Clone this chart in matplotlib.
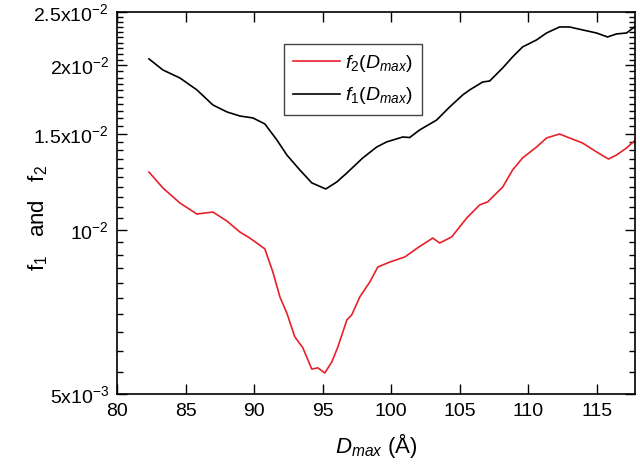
import numpy as np
import matplotlib
matplotlib.use('Agg')
import matplotlib.pyplot as plt
from matplotlib.ticker import FixedLocator, NullFormatter

plt.rcParams['font.family'] = ['Liberation Sans', 'DejaVu Sans']
plt.rcParams['mathtext.fontset'] = 'custom'
plt.rcParams['mathtext.rm'] = 'Liberation Sans'
plt.rcParams['mathtext.it'] = 'Liberation Sans:italic'

# f1(Dmax), black curve
d1 = [82.31, 83.33, 84.57, 85.81, 86.98, 88.00, 88.95, 89.90, 90.77, 91.65,
      92.38, 93.33, 94.20, 95.22, 96.03, 96.76, 97.92, 98.94, 99.67, 100.84,
      101.35, 102.08, 103.32, 104.27, 105.22, 105.73, 106.68, 107.19, 108.14, 108.86,
      109.59, 110.61, 111.34, 112.29, 113.02, 113.97, 114.99, 115.79, 116.45, 117.18,
      117.76]
f1 = [0.02056, 0.01962, 0.01897, 0.01804, 0.01693, 0.01644, 0.01616, 0.01603, 0.01563, 0.01461,
      0.01371, 0.01287, 0.01219, 0.01188, 0.01224, 0.01271, 0.01354, 0.01418, 0.01449, 0.01479,
      0.01476, 0.01524, 0.01589, 0.01679, 0.01766, 0.01804, 0.01865, 0.01873, 0.01979, 0.02073,
      0.02162, 0.02227, 0.02293, 0.02352, 0.02352, 0.02323, 0.02293, 0.02255, 0.02284, 0.02293,
      0.02352]

# f2(Dmax), red curve
d2 = [82.31, 83.33, 84.57, 85.81, 86.98, 88.00, 88.95, 89.68, 90.77, 91.36,
      91.87, 92.38, 92.96, 93.55, 94.20, 94.64, 95.15, 95.66, 96.10, 96.76,
      97.12, 97.71, 98.44, 99.02, 99.89, 100.99, 101.93, 103.03, 103.54, 104.42,
      105.51, 106.46, 107.04, 108.14, 108.86, 109.59, 110.61, 111.34, 112.29, 113.02,
      113.97, 114.99, 115.86, 116.45, 117.18, 117.91]
f2 = [0.01276, 0.01193, 0.01120, 0.01069, 0.01078, 0.01038, 0.00991, 0.00966, 0.00923, 0.00837,
      0.00754, 0.00704, 0.00637, 0.00608, 0.00556, 0.00559, 0.00547, 0.00573, 0.00610, 0.00684,
      0.00699, 0.00754, 0.00803, 0.00855, 0.00873, 0.00892, 0.00927, 0.00966, 0.00946, 0.00971,
      0.01051, 0.01111, 0.01125, 0.01198, 0.01287, 0.01354, 0.01418, 0.01473, 0.01498, 0.01473,
      0.01442, 0.01389, 0.01348, 0.01371, 0.01412, 0.01467]

xticks = [80, 85, 90, 95, 100, 105, 110, 115]
yticks = [0.005, 0.01, 0.015, 0.02, 0.025]
ylabels = [r'5x10$^{-3}$', r'10$^{-2}$', r'1.5x10$^{-2}$', r'2x10$^{-2}$', r'2.5x10$^{-2}$']

fig = plt.figure(figsize=(6.4, 4.68), dpi=100)
ax = fig.add_axes([0.1833, 0.1575, 0.8089, 0.8158])

ax.plot(d2, f2, color='#e8202a', lw=1.2, label=r'$f_2(D_{max})$')
ax.plot(d1, f1, color='black', lw=1.2, label=r'$f_1(D_{max})$')

ax.set_yscale('log')
ax.set_xlim(80, 117.8)
ax.set_ylim(0.005, 0.025)
ax.set_xticks(xticks)
ax.set_xticklabels([str(t) for t in xticks])
ax.xaxis.set_minor_locator(FixedLocator([]))
ax.yaxis.set_major_locator(FixedLocator(yticks))
ax.set_yticklabels(ylabels)
minor = [v for v in np.arange(0.0055, 0.0249, 0.0005) if min(abs(v - t) for t in yticks) > 1e-6]
ax.yaxis.set_minor_locator(FixedLocator(minor))
ax.yaxis.set_minor_formatter(NullFormatter())

ax.tick_params(which='both', direction='in', top=True, right=True, labelsize=14, width=1.0)
ax.tick_params(which='major', length=7, pad=6)
ax.tick_params(which='minor', length=4)
for s in ax.spines.values():
    s.set_linewidth(1.2)

ax.set_xlabel(r'$D_{max}$ (Å)', fontsize=16, labelpad=8)
fig.text(0.06, 0.534, r'f$_1$   and   f$_2$', fontsize=16, rotation=90, ha='center', va='center')

leg = ax.legend(loc='upper left', bbox_to_anchor=(0.444, 0.906), bbox_transform=fig.transFigure,
                fontsize=14, fancybox=False, edgecolor='#444444', framealpha=1,
                handlelength=2.4, handletextpad=0.3, borderpad=0.45, labelspacing=0.6,
                borderaxespad=0)
leg.get_frame().set_linewidth(1.0)

fig.savefig('out.png', dpi=100)
